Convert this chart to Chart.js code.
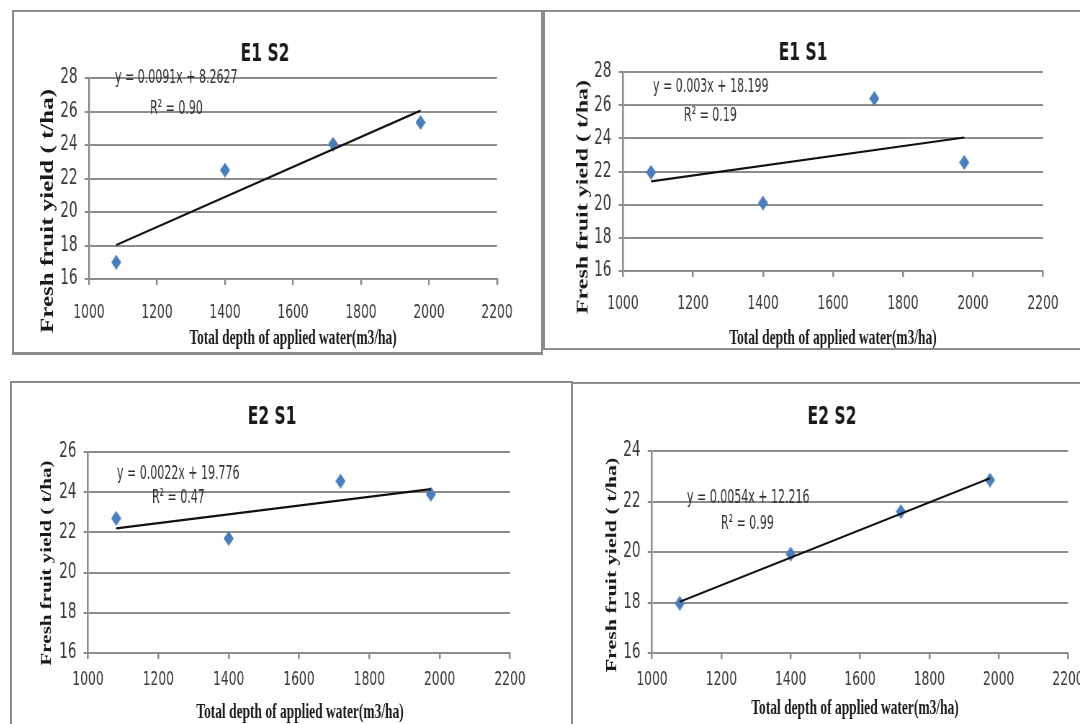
<!DOCTYPE html>
<html>
<head>
<meta charset="utf-8">
<title>Fresh fruit yield vs applied water</title>
<script src="https://cdn.jsdelivr.net/npm/chart.js@4.4.1/dist/chart.umd.min.js"></script>
<style>
  html, body { margin: 0; padding: 0; width: 1080px; height: 724px; overflow: hidden; background: #fff; }
  #stage { position: relative; width: 1080px; height: 724px; }
  .panel { position: absolute; border: 2px solid #8c8c8c; box-sizing: border-box; }
  canvas.chart { position: absolute; transform-origin: 0 0; }
</style>
</head>
<body>
<div id="stage"></div>
<script>
// ---- values ----
const waterDepth = [1080, 1400, 1718, 1975];

const yieldE1S2 = [17.0, 22.5, 24.05, 25.35];
const yieldE1S1 = [21.95, 20.1, 26.4, 22.55];
const yieldE2S1 = [22.7, 21.7, 24.55, 23.9];
const yieldE2S2 = [17.97, 19.92, 21.6, 22.85];

// fitted trend lines, endpoints as drawn
const trendX = [1080, 1975];
const trendE1S2 = [18.03, 26.05];
const trendE1S1 = [21.4, 24.05];
const trendE2S1 = [22.2, 24.15];
const trendE2S2 = [18.03, 22.92];

const panelTitles = ['E1 S2', 'E1 S1', 'E2 S1', 'E2 S2'];
const equations = [
  ['y = 0.0091x + 8.2627', 'R\u00b2 = 0.90'],
  ['y = 0.003x + 18.199', 'R\u00b2 = 0.19'],
  ['y = 0.0022x + 19.776', 'R\u00b2 = 0.47'],
  ['y = 0.0054x + 12.216', 'R\u00b2 = 0.99']
];
const xAxisTitle = 'Total depth of applied water(m3/ha)';
const yAxisTitle = 'Fresh fruit yield ( t/ha)';

const xMin = 1000, xMax = 2200, xStep = 200;
const yMins = [16, 16, 16, 16];
const yMaxs = [28, 28, 26, 24];
const yStep = 2;

// ---- page layout (px), the source image is horizontally squeezed ----
const SQUASH = 0.72;
const GRID = '#8c8c8c';
const TICK_COLOR = '#3a3a3a';
const NARROW = '"Liberation Sans Narrow", "DejaVu Sans Condensed", "Liberation Sans", sans-serif';
const SERIF = '"Liberation Serif", "DejaVu Serif", serif';

const layouts = [
  { box: [12, 10, 543, 355], canvasRight: 541, area: [89, 78, 497, 279], titleAt: [265, 55],
    eq: [[115, 78], [150, 109]], xTitle: [293, 338], yTitle: [48, 211], ySize: 25, xPad: 16.5 },
  { box: [543, 10, 1100, 350], canvasRight: 1098, area: [623, 72, 1043, 271], titleAt: [803, 54],
    eq: [[653, 87], [684, 116]], xTitle: [833, 338], yTitle: [583, 197], ySize: 24, xPad: 15.5 },
  { box: [10, 381, 573, 744], canvasRight: 571, area: [88, 452, 510, 653], titleAt: [272, 418],
    eq: [[117, 474], [152, 498]], xTitle: [300, 712], yTitle: [47, 563], ySize: 21, xPad: 9.5 },
  { box: [571, 382, 1100, 744], canvasRight: 1098, area: [652, 451, 1068, 653], titleAt: [832, 418],
    eq: [[687, 498], [721, 524]], xTitle: [855, 708], yTitle: [612, 565], ySize: 22, xPad: 9.5 }
];

const seriesYield = [yieldE1S2, yieldE1S1, yieldE2S1, yieldE2S2];
const seriesTrend = [trendE1S2, trendE1S1, trendE2S1, trendE2S2];

Chart.defaults.font.family = NARROW;
Chart.defaults.animation = false;

// tall blue diamond marker like the Excel one
function makeDiamond() {
  const c = document.createElement('canvas');
  c.width = 14; c.height = 15;
  const g = c.getContext('2d');
  g.beginPath();
  g.moveTo(7, 0); g.lineTo(14, 7.5); g.lineTo(7, 15); g.lineTo(0, 7.5);
  g.closePath();
  g.fillStyle = '#4a7ebb';
  g.fill();
  return c;
}
const diamond = makeDiamond();

function buildPanel(i) {
  const p = layouts[i];
  const stage = document.getElementById('stage');

  const box = document.createElement('div');
  box.className = 'panel';
  box.style.left = p.box[0] + 'px';
  box.style.top = p.box[1] + 'px';
  box.style.width = (p.box[2] - p.box[0]) + 'px';
  box.style.height = (p.box[3] - p.box[1]) + 'px';
  if (i === 0) box.style.borderBottomWidth = '3px';
  stage.appendChild(box);

  const cx = p.box[0] + 2, cy = p.box[1] + 2;
  const wp = p.canvasRight - cx;
  const hp = p.box[3] - 2 - cy;
  const wi = Math.round(wp / SQUASH);
  const toX = x => (x - cx) / SQUASH;
  const toY = y => y - cy;
  const [L, T, R, B] = p.area;

  const padRight = wi - toX(R);
  const padLeft = 2 * toX(p.titleAt[0]) - wi + padRight;
  const yAxisW = toX(L) - padLeft;
  const xAxisH = hp - toY(B);
  const titleSize = 24, titleLH = titleSize * 1.2;
  const titleTop = toY(p.titleAt[1]) - titleLH / 2;
  const titleBottom = toY(T) - titleTop - titleLH;

  const canvas = document.createElement('canvas');
  canvas.className = 'chart';
  canvas.width = wi;
  canvas.height = hp;
  canvas.style.left = cx + 'px';
  canvas.style.top = cy + 'px';
  canvas.style.width = wi + 'px';
  canvas.style.height = hp + 'px';
  canvas.style.transform = 'scaleX(' + SQUASH + ')';
  stage.appendChild(canvas);

  // equation, R² and axis titles
  const panelText = {
    id: 'panelText',
    afterDraw(chart) {
      const ctx = chart.ctx;
      ctx.save();
      ctx.fillStyle = '#333';
      ctx.font = '20px ' + NARROW;
      ctx.textBaseline = 'middle';
      ctx.textAlign = 'left';
      for (let k = 0; k < 2; k++) {
        ctx.save();
        ctx.translate(toX(p.eq[k][0]), toY(p.eq[k][1]));
        ctx.scale(0.85, 1);
        ctx.fillText(equations[i][k], 0, 0);
        ctx.restore();
      }

      ctx.fillStyle = '#1a1a1a';
      ctx.textAlign = 'center';
      ctx.save();
      ctx.translate(toX(p.xTitle[0]), toY(p.xTitle[1]));
      ctx.scale(0.85, 1);
      ctx.font = 'bold 22px ' + SERIF;
      ctx.fillText(xAxisTitle, 0, 0);
      ctx.restore();

      ctx.save();
      ctx.translate(toX(p.yTitle[0]), toY(p.yTitle[1]));
      ctx.rotate(-Math.PI / 2);
      ctx.font = 'bold ' + p.ySize + 'px ' + SERIF;
      ctx.fillText(yAxisTitle, 0, 0);
      ctx.restore();
      ctx.restore();
    }
  };

  new Chart(canvas, {
    type: 'scatter',
    data: {
      datasets: [
        {
          label: 'Linear trend',
          data: trendX.map((x, k) => ({ x: x, y: seriesTrend[i][k] })),
          showLine: true,
          borderColor: '#111',
          borderWidth: 2.2,
          pointRadius: 0,
          fill: false
        },
        {
          label: panelTitles[i],
          data: waterDepth.map((x, k) => ({ x: x, y: seriesYield[i][k] })),
          pointStyle: diamond,
          pointRadius: 7,
          backgroundColor: '#4a7ebb',
          borderColor: '#4a7ebb'
        }
      ]
    },
    options: {
      responsive: false,
      layout: { padding: { left: padLeft, right: padRight, top: 0, bottom: 0 } },
      plugins: {
        legend: { display: false },
        tooltip: { enabled: false },
        title: {
          display: true,
          text: panelTitles[i],
          color: '#1a1a1a',
          font: { family: NARROW, size: titleSize, weight: 'bold', lineHeight: 1.2 },
          padding: { top: titleTop, bottom: titleBottom }
        }
      },
      scales: {
        x: {
          type: 'linear',
          min: xMin,
          max: xMax,
          afterFit: s => { s.height = xAxisH; },
          ticks: {
            stepSize: xStep,
            color: TICK_COLOR,
            font: { size: 19 },
            padding: p.xPad,
            maxRotation: 0,
            autoSkip: false,
            callback: v => String(v)
          },
          grid: { drawOnChartArea: false, color: GRID, lineWidth: 2.5, tickLength: 6 },
          border: { color: GRID, width: 2 }
        },
        y: {
          min: yMins[i],
          max: yMaxs[i],
          afterFit: s => { s.width = yAxisW; },
          ticks: { stepSize: yStep, color: TICK_COLOR, font: { size: 21 }, padding: 10 },
          grid: { color: GRID, lineWidth: 2, tickLength: 6 },
          border: { color: GRID, width: 2.5 }
        }
      }
    },
    plugins: [panelText]
  });
}

for (let i = 0; i < layouts.length; i++) buildPanel(i);
</script>
</body>
</html>
